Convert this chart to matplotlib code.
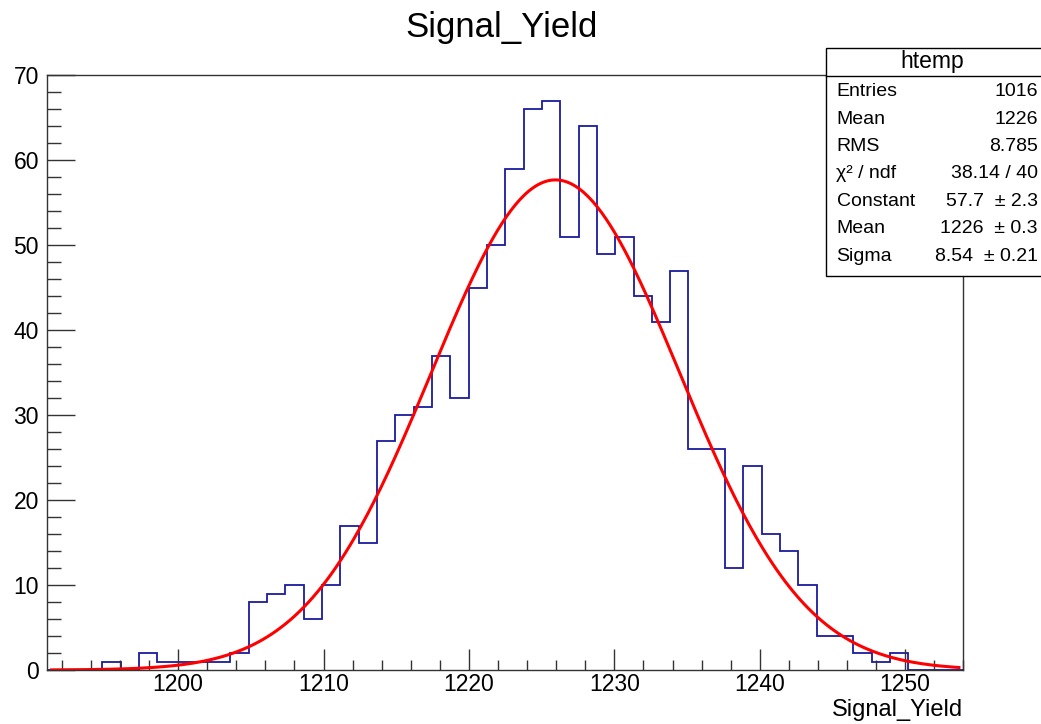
import numpy as np
import matplotlib
matplotlib.use("Agg")
import matplotlib.pyplot as plt
from matplotlib.ticker import MultipleLocator

plt.rcParams['font.family'] = ['Liberation Sans', 'DejaVu Sans']

# histogram binning (50 bins) and counts
x_min, x_max, n_bins = 1191.0, 1254.0, 50
counts = [0, 0, 0, 1, 0, 2, 1, 1, 1, 1,
          2, 8, 9, 10, 6, 10, 17, 15, 27, 30,
          31, 37, 32, 45, 50, 59, 66, 67, 51, 64,
          49, 51, 44, 41, 47, 26, 26, 12, 24, 16,
          14, 10, 4, 4, 2, 1, 2, 0, 0, 0]

# gaussian fit parameters from the stats box
fit_const, fit_mean, fit_sigma = 57.7, 1225.95, 8.54

stat_labels = ["Entries", "Mean", "RMS", "\u03c7\u00b2 / ndf", "Constant", "Mean", "Sigma"]
stat_values = ["1016", "1226", "8.785", "38.14 / 40", "57.7  \u00b1 2.3", "1226  \u00b1 0.3", "8.54  \u00b1 0.21"]

W, H = 1041, 724
fig = plt.figure(figsize=(W / 100, H / 100), dpi=100)
ax = fig.add_axes([47.3 / W, 1 - 670 / H, (963.3 - 47.3) / W, (670 - 75) / H])

edges = np.linspace(x_min, x_max, n_bins + 1)
ax.stairs(counts, edges, color='#1a1a9e', linewidth=1.3, baseline=0)

xs = np.linspace(x_min + 0.3, x_max - 0.3, 400)
ax.plot(xs, fit_const * np.exp(-0.5 * ((xs - fit_mean) / fit_sigma) ** 2),
        color='#ff0000', linewidth=2.2)

ax.set_xlim(x_min, x_max)
ax.set_ylim(0, 70.05)

ax.xaxis.set_major_locator(MultipleLocator(10))
ax.xaxis.set_minor_locator(MultipleLocator(2))
ax.yaxis.set_major_locator(MultipleLocator(10))
ax.yaxis.set_minor_locator(MultipleLocator(2))
ax.tick_params(which='both', direction='in', top=False, right=False, width=1, color='#333333')
ax.tick_params(axis='x', which='major', length=15, pad=2, labelsize=16.5)
ax.tick_params(axis='x', which='minor', length=7.5)
ax.tick_params(axis='y', which='major', length=20, pad=6, labelsize=16.5)
ax.tick_params(axis='y', which='minor', length=10)
for s in ax.spines.values():
    s.set_linewidth(1)
    s.set_color('#333333')

fig.text(501.7 / W, 1 - 36.7 / H, "Signal_Yield", fontsize=25, ha='center', va='baseline')
fig.text(963 / W, 1 - 716 / H, "Signal_Yield", fontsize=17, ha='right', va='baseline')

# stats box
bx0, bx1, by0, by1 = 825.5, 1045, 48.3, 276.5
box = plt.Rectangle((bx0 / W, 1 - by1 / H), (bx1 - bx0) / W, (by1 - by0) / H,
                    transform=fig.transFigure, facecolor='white', edgecolor='black',
                    linewidth=1, zorder=5)
fig.patches.append(box)
fig.add_artist(plt.Line2D([bx0 / W, 1], [1 - 75.7 / H] * 2, color='black',
                          linewidth=1, transform=fig.transFigure, zorder=6))
fig.text(932 / W, 1 - 61.5 / H, "htemp", fontsize=16.5, ha='center', va='center', zorder=7)
for i, (lab, val) in enumerate(zip(stat_labels, stat_values)):
    y = 1 - (91.7 + i * 27.4) / H
    fig.text(836.5 / W, y, lab, fontsize=14, ha='left', va='center', zorder=7)
    fig.text(1038 / W, y, val, fontsize=14, ha='right', va='center', zorder=7)

fig.savefig("out.png", dpi=100, facecolor='white')
